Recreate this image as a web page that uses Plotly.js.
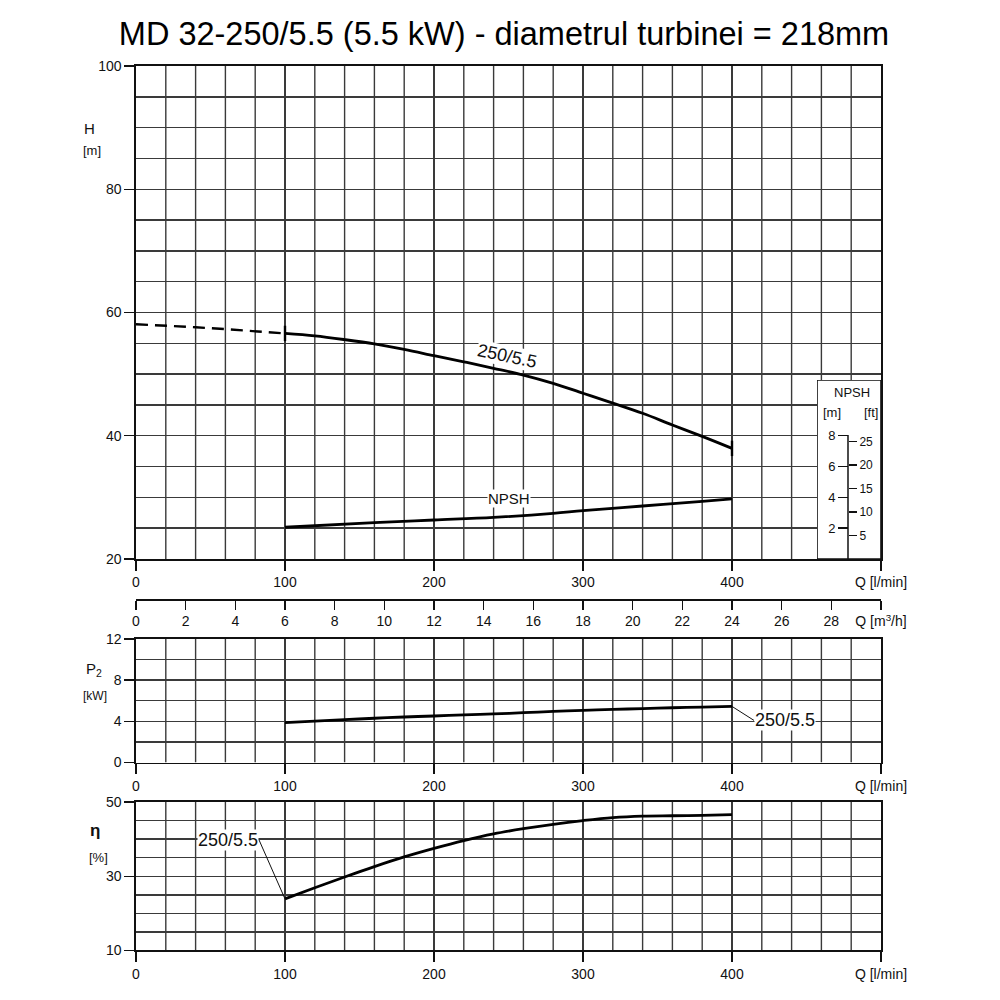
<!DOCTYPE html>
<html><head><meta charset="utf-8">
<script src="https://cdn.plot.ly/plotly-3.0.1.min.js"></script>
<style>html,body{margin:0;padding:0;background:#fff}</style>
</head><body><div id="chart" style="width:1000px;height:1000px"></div>
<script>
// ---- data ----
const qDash = [0, 20, 40, 60, 80, 100];
const hDash = [58.1, 57.9, 57.6, 57.3, 57.0, 56.6];
const qCurve = [100,120,140,160,180,200,220,240,260,280,300,320,340,360,380,400];
const hCurve = [56.6,56.2,55.6,54.9,54.0,53.0,52.0,50.95,49.85,48.5,46.9,45.3,43.65,41.75,39.9,37.95];
const qNpsh = [100,160,200,240,280,300,340,380,400];
const npshM = [2.06,2.36,2.53,2.70,2.96,3.14,3.44,3.74,3.90];
const p2kW = [3.88,4.02,4.16,4.30,4.42,4.52,4.62,4.72,4.84,4.96,5.07,5.16,5.24,5.32,5.39,5.45];
const etaPct = [23.9,26.9,29.8,32.6,35.2,37.5,39.6,41.4,42.8,44.0,45.0,45.8,46.2,46.3,46.4,46.6];

// axis ranges, tick steps, grid positions and labels
const qRange = [0, 500];      const qStep = 100;
const qGrid = [20,40,60,80,120,140,160,180,220,240,260,280,320,340,360,380,420,440,460,480];
const qEndLabel = {'500': 'Q [l/min]'};
const m3hRange = [0, 30];     const m3hStep = 2;
const m3hEndLabel = {'30': 'Q [m<sup>3</sup>/h]'};
const hRange = [20, 100];     const hStep = 20;   const hGridStep = 5;
const p2Range = [0, 12];      const p2Step = 4;   const p2GridStep = 2;
const etaRange = [10, 50];    const etaStep = 20; const etaGridStep = 5;
const npshMTicks = [2,4,6,8];
const npshFtTicks = [5,10,15,20,25];
const curveLabel = '250/5.5';
const titleText = 'MD 32-250/5.5 (5.5 kW) - diametrul turbinei = 218mm';

// ---- styling ----
const FONT = 'Liberation Sans, Arial, sans-serif';
const gridC = '#3a3a3a';
const lineC = '#111';
const tickFont = {family: FONT, size: 14, color: '#111'};

function qAxis(anchor) {
  return {
    domain: [0, 1], anchor: anchor, range: qRange,
    tickmode: 'linear', tick0: qRange[0], dtick: qStep, labelalias: qEndLabel,
    ticks: 'outside', ticklen: 10, tickwidth: 1.4, tickcolor: lineC,
    showline: true, mirror: true, linecolor: lineC, linewidth: 1.6,
    showgrid: true, gridcolor: gridC, gridwidth: 1.4,
    zeroline: false, tickfont: tickFont, fixedrange: true
  };
}
function valAxis(anchor, domain, range, step, gridStep) {
  return {
    domain: domain, anchor: anchor, range: range,
    tickmode: 'linear', tick0: range[0], dtick: step,
    ticks: 'outside', ticklen: 10, tickwidth: 1.4, tickcolor: lineC,
    showline: true, mirror: true, linecolor: lineC, linewidth: 1.6,
    showgrid: true, gridcolor: gridC, gridwidth: 1.4,
    minor: {tickmode: 'linear', tick0: range[0], dtick: gridStep, showgrid: true, gridcolor: gridC, gridwidth: 1.4, ticks: ''},
    zeroline: false, tickfont: tickFont, fixedrange: true
  };
}
// fine vertical grid lines, placed through each panel's own axes
function vGrid(xa, ya, yr) {
  return qGrid.map(q => ({type: 'line', xref: xa, yref: ya, x0: q, x1: q, y0: yr[0], y1: yr[1],
                          layer: 'below', line: {color: gridC, width: 1.4}}));
}

const npshTop = 11.619;  // inset box height in NPSH metres
const dummy = (xa, ya) => ({x: [null], y: [null], xaxis: xa, yaxis: ya, mode: 'lines', hoverinfo: 'skip'});

const traces = [
  {x: qDash, y: hDash, xaxis: 'x', yaxis: 'y', mode: 'lines', line: {color: '#000', width: 2.4, dash: '12px,7px'}, hoverinfo: 'skip'},
  {x: qCurve, y: hCurve, xaxis: 'x', yaxis: 'y', mode: 'lines', line: {color: '#000', width: 2.8, shape: 'spline'}, hoverinfo: 'skip'},
  {x: [qCurve[0], qCurve[qCurve.length-1]], y: [hCurve[0], hCurve[hCurve.length-1]], xaxis: 'x', yaxis: 'y', mode: 'markers',
   marker: {symbol: 'line-ns', size: 11, line: {color: '#000', width: 2.4}}, hoverinfo: 'skip'},
  {x: qNpsh, y: npshM, xaxis: 'x', yaxis: 'y6', mode: 'lines', line: {color: '#000', width: 2.8, shape: 'spline'}, hoverinfo: 'skip'},
  {x: qCurve, y: p2kW, xaxis: 'x2', yaxis: 'y2', mode: 'lines', line: {color: '#000', width: 2.8, shape: 'spline'}, hoverinfo: 'skip'},
  {x: qCurve, y: etaPct, xaxis: 'x3', yaxis: 'y3', mode: 'lines', line: {color: '#000', width: 2.8, shape: 'spline'}, hoverinfo: 'skip'},
  dummy('x4', 'y'), dummy('x5', 'y4'), dummy('x5', 'y5')
];

const layout = {
  width: 1000, height: 1000,
  margin: {l: 136, r: 119, t: 40, b: 40},
  paper_bgcolor: '#fff', plot_bgcolor: 'rgba(0,0,0,0)',
  showlegend: false, hovermode: false,
  font: {family: FONT, color: '#111'},
  title: {text: titleText, x: 0.504, xref: 'container', xanchor: 'center', y: 0.966, yref: 'container', yanchor: 'middle',
          font: {family: FONT, size: 32.5, color: '#000'}},
  xaxis: qAxis('y'),
  yaxis: valAxis('x', [0.43587, 0.97174], hRange, hStep, hGridStep),
  xaxis2: qAxis('y2'),
  yaxis2: valAxis('x2', [0.21467, 0.34891], p2Range, p2Step, p2GridStep),
  xaxis3: qAxis('y3'),
  yaxis3: valAxis('x3', [0.01033, 0.17174], etaRange, etaStep, etaGridStep),
  xaxis4: {overlaying: 'x', anchor: 'free', position: 0.39239, side: 'bottom', range: m3hRange,
           tickmode: 'linear', tick0: 0, dtick: m3hStep, labelalias: m3hEndLabel,
           ticks: 'outside', ticklen: 9, tickwidth: 1.4, tickcolor: lineC,
           showline: true, linecolor: lineC, linewidth: 1.6, showgrid: false, zeroline: false,
           tickfont: tickFont, fixedrange: true},
  xaxis5: {domain: [0.91409, 1], anchor: 'y4', range: [0, 1], visible: false, fixedrange: true},
  yaxis4: {domain: [0.43587, 0.63043], anchor: 'free', position: 0.9557, side: 'left', range: [0, npshTop],
           tickmode: 'array', tickvals: npshMTicks, ticks: 'outside', ticklen: 10, tickwidth: 1.4, tickcolor: lineC,
           showline: false, showgrid: false, zeroline: false, tickfont: {family: FONT, size: 13, color: '#111'}, fixedrange: true},
  yaxis5: {overlaying: 'y4', anchor: 'free', position: 0.9557, side: 'right', range: [0, npshTop * 3.28084],
           tickmode: 'array', tickvals: npshFtTicks, ticks: 'outside', ticklen: 8, tickwidth: 1.4, tickcolor: lineC,
           showline: false, showgrid: false, zeroline: false, tickfont: {family: FONT, size: 12, color: '#111'}, fixedrange: true},
  yaxis6: {overlaying: 'y', range: [0, 32], visible: false, fixedrange: true},
  shapes: [].concat(
    vGrid('x', 'y', hRange), vGrid('x2', 'y2', p2Range), vGrid('x3', 'y3', etaRange),
    [
      {type: 'rect', xref: 'x5', yref: 'y4', x0: 0, x1: 1, y0: 0, y1: npshTop, layer: 'below',
       fillcolor: '#fff', line: {color: lineC, width: 1.6}},
      {type: 'line', xref: 'paper', yref: 'y4', x0: 0.9557, x1: 0.9557, y0: 0, y1: 8.05, layer: 'above',
       line: {color: lineC, width: 1.5}}
    ]),
  annotations: [
    {text: curveLabel, xref: 'x', yref: 'y', x: 249, y: 52.9, showarrow: false, textangle: 12,
     bgcolor: '#fff', borderpad: 0, font: {family: FONT, size: 18, color: '#111'}},
    {text: 'NPSH', xref: 'x', yref: 'y', x: 250, y: 29.85, showarrow: false,
     bgcolor: '#fff', borderpad: 0, font: {family: FONT, size: 15, color: '#111'}},
    {text: curveLabel, xref: 'x2', yref: 'y2', x: qCurve[qCurve.length-1], y: p2kW[p2kW.length-1],
     showarrow: true, arrowhead: 0, arrowwidth: 1, arrowcolor: '#111', ax: 22, ay: 14,
     xanchor: 'left', yanchor: 'middle', bgcolor: '#fff', borderpad: 0, font: {family: FONT, size: 18, color: '#111'}},
    {text: curveLabel, xref: 'x3', yref: 'y3', x: qCurve[0], y: etaPct[0],
     showarrow: true, arrowhead: 0, arrowwidth: 1, arrowcolor: '#111', ax: -26, ay: -59,
     xanchor: 'right', yanchor: 'middle', bgcolor: '#fff', borderpad: 0, font: {family: FONT, size: 18, color: '#111'}},
    {text: 'NPSH', xref: 'x5', yref: 'y4', x: 0.55, y: 10.78, showarrow: false, font: {family: FONT, size: 13, color: '#111'}},
    {text: '[m]', xref: 'x5', yref: 'y4', x: 0.234, y: 9.48, showarrow: false, font: {family: FONT, size: 13, color: '#111'}},
    {text: '[ft]', xref: 'x5', yref: 'y4', x: 0.844, y: 9.48, showarrow: false, font: {family: FONT, size: 13, color: '#111'}},
    {text: 'H', xref: 'paper', yref: 'paper', x: -0.0725, y: 0.9152, showarrow: false, font: {family: FONT, size: 15, color: '#111'}},
    {text: '[m]', xref: 'paper', yref: 'paper', x: -0.0732, y: 0.8902, showarrow: false, font: {family: FONT, size: 13, color: '#111'}},
    {text: 'P<sub>2</sub>', xref: 'paper', yref: 'paper', x: -0.0698, y: 0.3032, showarrow: false, font: {family: FONT, size: 15, color: '#111'}},
    {text: '[kW]', xref: 'paper', yref: 'paper', x: -0.0732, y: 0.2771, showarrow: false, font: {family: FONT, size: 12, color: '#111'}},
    {text: '<b>η</b>', xref: 'paper', yref: 'paper', x: -0.0644, y: 0.1282, showarrow: false, font: {family: FONT, size: 17, color: '#111'}},
    {text: '[%]', xref: 'paper', yref: 'paper', x: -0.0658, y: 0.1011, showarrow: false, font: {family: FONT, size: 13, color: '#111'}}
  ]
};

Plotly.newPlot('chart', traces, layout, {staticPlot: true, displayModeBar: false});
</script></body></html>
